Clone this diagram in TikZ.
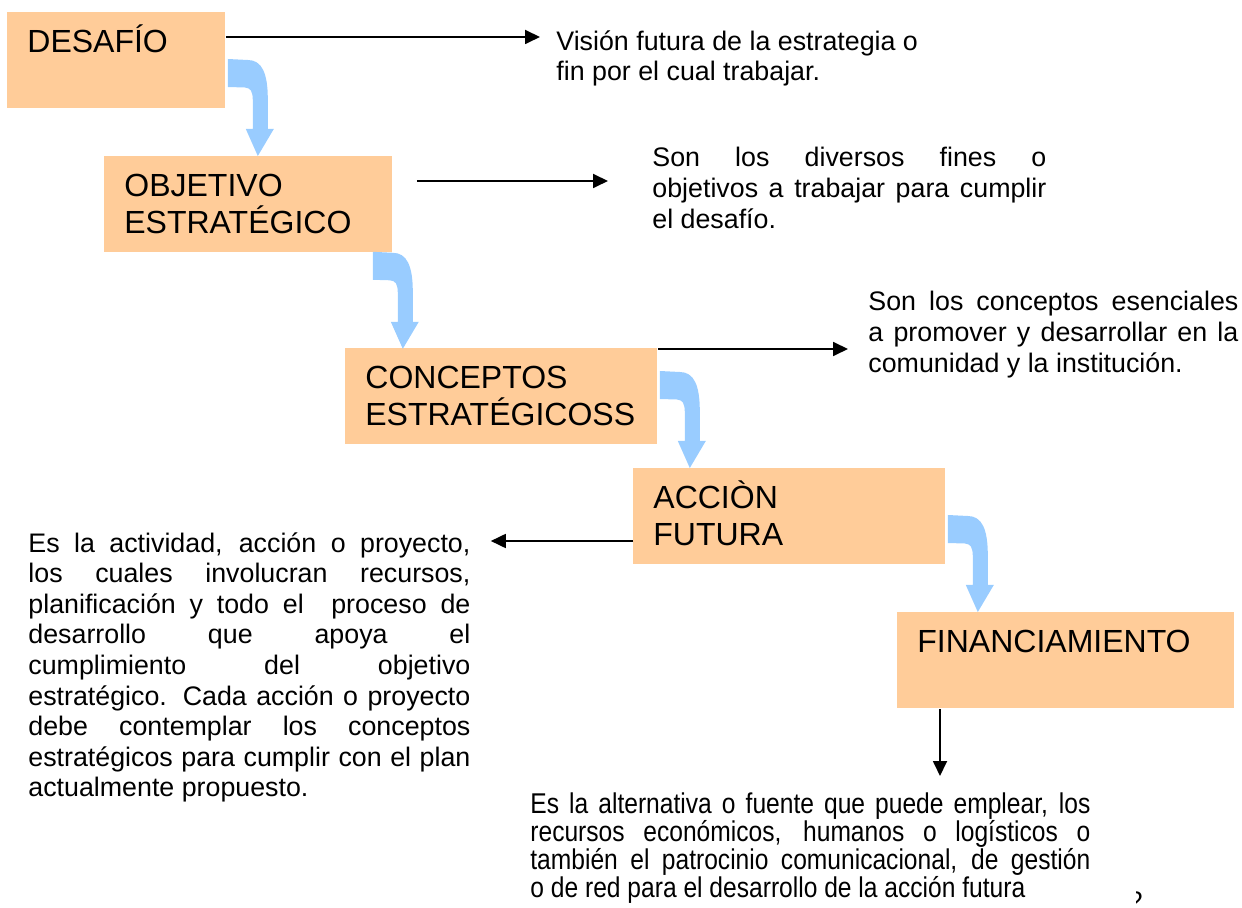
\documentclass[tikz,border=0pt]{standalone}
\usepackage{fontspec}
\setmainfont{Liberation Sans}
\newfontfamily\narrowfont[FakeStretch=0.86]{Liberation Sans}
\usetikzlibrary{arrows.meta,calc}
\definecolor{peach}{RGB}{255,204,153}
\definecolor{skyarrow}{RGB}{153,204,255}
\newcommand{\bodyfont}{\fontsize{13.4pt}{15.3pt}\selectfont\tolerance=9999\hyphenpenalty=10000}
\newcommand{\altfont}{\narrowfont\fontsize{14.3pt}{14pt}\selectfont\tolerance=9999\hyphenpenalty=10000}
\newcommand{\stagefont}{\fontsize{16pt}{18.4pt}\selectfont}

\begin{document}
\begin{tikzpicture}[x=0.5pt, y=-0.5pt]
\tikzset{
    stage/.style={rectangle, fill=peach, anchor=north west, inner xsep=10pt, inner ysep=0pt, text height=20pt, text depth=28pt, font=\stagefont},
    note/.style={anchor=north west, inner sep=0pt, font=\bodyfont, align=justify},
    flow/.style={-{Triangle[length=7.5pt,width=7pt]}, line width=0.9pt},
    bendarrow/.pic={
        \fill[skyarrow] (0,0) -- (20,1) .. controls (34,1) and (40,14) .. (40,40) -- (40,70) -- (46,70)
            -- (30,97) -- (18,70) -- (25,70) -- (25,42) .. controls (25,32) and (23,29) .. (17,28.5) -- (0,28) -- cycle;
    }
}
\useasboundingbox (0,0) rectangle (1242,908);

% the five stages
\node[stage] (desafio) at (7,12) {\parbox[t]{89pt}{DESAFÍO}};
\node[stage] (objetivo) at (104,156) {\parbox[t]{124pt}{OBJETIVO\\ESTRATÉGICO}};
\node[stage] (conceptos) at (345,348) {\parbox[t]{136pt}{CONCEPTOS\\ESTRATÉGICOSS}};
\node[stage] (accion) at (633,468) {\parbox[t]{136pt}{ACCIÒN\\FUTURA}};
\node[stage] (financiamiento) at (897,612) {\parbox[t]{148.5pt}{FINANCIAMIENTO}};

% the notes
\node[note, align=left] (vision) at (556,30) {Visión futura de la estrategia o\\fin por el cual trabajar.};
\node[note, text width=197pt] (fines) at (652,147) {Son los diversos fines o\linebreak objetivos a trabajar para cumplir\linebreak el desafío.};
\node[note, text width=185pt] (esenciales) at (868,291) {Son los conceptos esenciales\linebreak a promover y desarrollar en la\linebreak comunidad y la institución.};
\node[note, text width=221pt] (actividad) at (28,532) {Es la actividad, acción o proyecto,\linebreak los cuales involucran recursos,\linebreak planificación y todo el~ proceso de\linebreak desarrollo que apoya el\linebreak cumplimiento del objetivo\linebreak estratégico. Cada acción o proyecto\linebreak debe contemplar los conceptos\linebreak estratégicos para cumplir con el plan\linebreak actualmente propuesto.};
\node[note, text width=280pt, font=\altfont] (alternativa) at (530,792) {Es la alternativa o fuente que puede emplear, los\linebreak recursos económicos, humanos o logísticos o\linebreak también el patrocinio comunicacional, de gestión\linebreak o de red para el desarrollo de la acción futura};

% blue bent arrows between the stages
\pic at ($(desafio.north east)+(2,47)$) {bendarrow};
\pic at ($(objetivo.south east)+(-20,-1)$) {bendarrow};
\pic at ($(conceptos.north east)+(2,23)$) {bendarrow};
\pic at ($(accion.north east)+(2,47)$) {bendarrow};

% black arrows to the notes
\coordinate (d1) at ([yshift=-12.5pt]desafio.north east);
\coordinate (o1) at ([yshift=-12.5pt]objetivo.north east);
\coordinate (c1) at ([yshift=-0.5pt]conceptos.north east);
\coordinate (a1) at ([yshift=-36.5pt]accion.north west);
\coordinate (f1) at ([xshift=21.5pt]financiamiento.south west);
\draw[flow, shorten >=8pt] (d1) -- (d1 -| vision.west);
\draw[flow, shorten <=12pt, shorten >=22pt] (o1) -- (o1 -| fines.west);
\draw[flow, shorten >=10pt] (c1) -- (c1 -| esenciales.west);
\draw[flow, shorten >=10pt] (a1) -- (a1 -| actividad.east);
\draw[flow, shorten >=8pt] (f1) -- (f1 |- alternativa.north);

% page number, cut at its left
\begin{scope}
\clip (1136,870) rectangle (1170,908);
\node[font=\bodyfont, anchor=base west, inner sep=0pt] (pagenum) at (1128,910) {2};
\end{scope}
\end{tikzpicture}
\end{document}
